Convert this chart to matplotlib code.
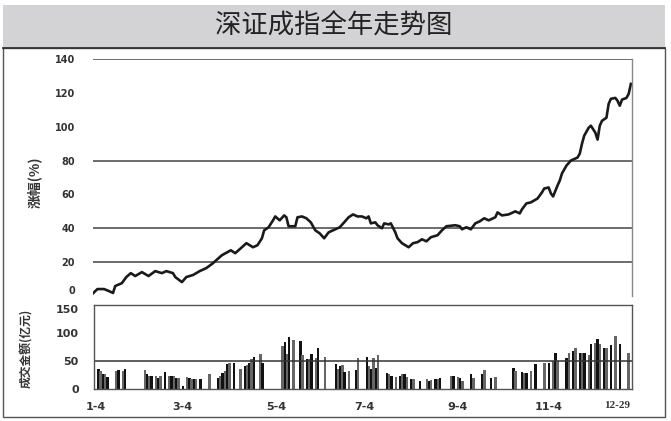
import matplotlib
matplotlib.use("Agg")
import matplotlib.pyplot as plt
from matplotlib.patches import Rectangle
from matplotlib.lines import Line2D

plt.rcParams['font.family'] = ['Noto Sans CJK SC', 'DejaVu Sans']

# ---- data (x = trading day index from 1-4) ----
line_day = [0, 2, 5, 7, 9, 10, 13, 15, 17, 19, 22, 25, 28, 31, 33, 36, 37, 40, 42, 45,
            48, 51, 54, 56, 58, 62, 64, 67, 69, 72, 74, 76, 77, 79, 81, 82, 84, 86, 87, 88,
            91, 92, 94, 96, 98, 100, 102, 104, 106, 109, 111, 113, 115, 117, 119, 121, 123,
            124, 125, 127, 128, 130, 131, 133, 134, 136, 137, 139, 142, 144, 146, 148, 150,
            152, 155, 157, 159, 163, 165, 166, 168, 170, 172, 174, 176, 178, 181, 182, 184,
            187, 190, 192, 193, 195, 197, 200, 202, 203, 205, 206, 207, 209, 210, 211, 213,
            215, 218, 219, 220, 221, 223, 224, 226, 227, 228, 229, 231, 232, 233, 235, 236,
            237, 238, 240, 241, 242]
line_pct = [1.6, 4.1, 4.1, 3.0, 1.8, 5.9, 7.6, 11.2, 13.5, 11.8, 14.1, 11.8, 14.7, 13.5,
            14.7, 13.5, 11.2, 8.2, 11.2, 12.4, 14.7, 16.5, 19.4, 21.8, 24.1, 27.0, 25.3, 28.8,
            31.2, 28.8, 30.0, 34.1, 38.8, 40.6, 44.7, 47.0, 44.7, 47.6, 46.5, 41.2, 41.2, 46.5,
            47.0, 45.9, 43.5, 38.8, 37.0, 34.1, 37.6, 39.4, 40.6, 43.5, 46.5, 48.2, 47.0, 47.0,
            45.9, 47.0, 42.9, 43.5, 41.8, 40.0, 42.9, 42.3, 42.9, 37.6, 34.1, 31.2, 28.8, 31.2,
            31.8, 33.5, 32.3, 34.7, 35.9, 38.8, 41.2, 41.8, 41.2, 39.4, 40.6, 39.4, 42.9, 44.1,
            45.9, 44.7, 46.5, 49.4, 47.6, 48.2, 50.0, 48.8, 51.2, 54.7, 55.3, 57.6, 61.2, 63.5,
            64.1, 60.6, 58.8, 65.3, 68.2, 72.4, 77.0, 80.0, 81.8, 84.1, 90.0, 94.7, 99.4, 100.6,
            96.5, 92.4, 100.6, 103.5, 105.3, 113.5, 116.5, 117.0, 115.3, 112.4, 116.0, 117.0,
            119.4, 125.3]

bar_day = [2, 3, 4, 5, 6, 10, 11, 13, 14, 23, 24, 25, 26, 28, 29, 30, 32, 34, 35, 36, 37, 38,
           40, 42, 43, 44, 45, 46, 48, 52, 56, 57, 58, 59, 60, 61, 63, 66, 68, 69, 70, 71, 72,
           75, 76, 85, 86, 87, 88, 90, 93, 94, 96, 97, 98, 100, 101, 104, 109, 110, 111, 112,
           113, 115, 118, 119, 123, 124, 125, 126, 127, 128, 132, 133, 134, 136, 138, 139, 140,
           141, 143, 144, 147, 150, 151, 152, 154, 155, 156, 161, 162, 164, 165, 166, 170, 171,
           175, 176, 179, 181, 189, 190, 193, 194, 195, 197, 199, 203, 205, 207, 208, 209, 213,
           214, 216, 217, 219, 220, 221, 223, 224, 226, 227, 228, 230, 231, 233, 235, 237, 241]
bar_amt = [36, 32, 26, 26, 22, 32, 34, 32, 36, 34, 26, 24, 24, 23, 20, 23, 30, 24, 24, 23, 20, 20,
           5, 22, 20, 17, 17, 17, 17, 26, 20, 24, 28, 32, 44, 46, 46, 35, 41, 42, 46, 53, 58,
           62, 47, 77, 84, 62, 92, 88, 86, 60, 54, 53, 62, 56, 74, 58, 44, 36, 41, 42,
           30, 32, 34, 56, 58, 41, 35, 56, 38, 60, 28, 26, 24, 22, 24, 26, 26,
           22, 17, 17, 14, 17, 14, 16, 17, 18, 20, 23, 24, 22, 20, 14, 26, 20,
           26, 34, 20, 22, 38, 32, 30, 29, 29, 32, 44, 47, 47, 50, 64, 50, 56,
           65, 68, 74, 65, 65, 64, 60, 80, 83, 90, 80, 74, 74, 78, 94, 80, 65]

tick_day = [1, 40, 82, 122, 164, 205, 236]
tick_lbl = ['1-4', '3-4', '5-4', '7-4', '9-4', '11-4', '12-29']

W, H = 671, 421
fig = plt.figure(figsize=(W / 100, H / 100), dpi=100)

# title bar and outer frame
fig.add_artist(Rectangle((3 / W, 1 - 48 / H), 662 / W, 43 / H, transform=fig.transFigure,
                         facecolor='#d3d3d5', edgecolor='none'))
fig.add_artist(Rectangle((3 / W, 1 - 417 / H), 662 / W, 369 / H, transform=fig.transFigure,
                         facecolor='none', edgecolor='#555555', lw=1.0))
fig.add_artist(Line2D([3 / W, 665 / W], [1 - 48 / H, 1 - 48 / H], transform=fig.transFigure,
                      color='#333333', lw=1.3))
fig.text(334 / W, 1 - 26 / H, '深证成指全年走势图', ha='center', va='center',
         fontsize=19, color='#222222')

# ---- upper panel: index change ----
ax = fig.add_axes([93 / W, 1 - 296 / H, 539 / W, 237 / H])
ax.plot(line_day, line_pct, color='#1a1a1a', lw=1.9)
for g in (20, 40, 80, 140):
    ax.axhline(g, color='#444444', lw=1.1, zorder=0)
ax.set_xlim(0, 242.5)
ax.set_ylim(0, 140)
ax.set_yticks(range(0, 141, 20))
ax.set_yticklabels([str(v) for v in range(0, 141, 20)], fontsize=7, fontweight='bold',
                   family='DejaVu Sans', color='#333333')
ax.get_yticklabels()[0].set_va('bottom')
ax.set_xticks([])
ax.tick_params(axis='y', length=0, pad=13)
for s in ('left', 'top', 'bottom'):
    ax.spines[s].set_visible(False)
ax.spines['right'].set_color('#888888')
ax.spines['right'].set_linewidth(1.0)
fig.text(35 / W, 1 - 182 / H, '涨幅(%)', rotation=90, ha='center', va='center',
         fontsize=10, fontweight='bold', color='#333333')

# ---- lower panel: turnover ----
bx = fig.add_axes([94 / W, 1 - 389 / H, 538 / W, 84 / H])
colors = ['#111111' if i % 2 == 0 else '#666666' for i in range(len(bar_day))]
bx.bar(bar_day, bar_amt, width=1.1, color=colors, edgecolor='none')
bx.axhline(50, color='#333333', lw=1.1)
bx.set_xlim(0, 242.5)
bx.set_ylim(0, 150)
bx.set_yticks([0, 50, 100, 150])
bx.set_yticklabels(['0', '50', '100', '150'], fontsize=8, fontweight='bold',
                   family='DejaVu Sans', color='#333333')
bx.get_yticklabels()[-1].set_va('top')
bx.set_xticks(tick_day)
bx.set_xticklabels(tick_lbl, fontsize=8, fontweight='bold', family='DejaVu Sans',
                   color='#333333')
bx.get_xticklabels()[-1].set_family('Liberation Serif')
bx.tick_params(length=0)
bx.tick_params(axis='y', pad=11)
bx.tick_params(axis='x', pad=9)
for s in bx.spines.values():
    s.set_color('#555555')
    s.set_linewidth(1.0)
fig.text(27 / W, 1 - 348 / H, '成交金额(亿元)', rotation=90, ha='center', va='center',
         fontsize=8.5, fontweight='bold', color='#333333')

fig.savefig('out.png', dpi=100)
